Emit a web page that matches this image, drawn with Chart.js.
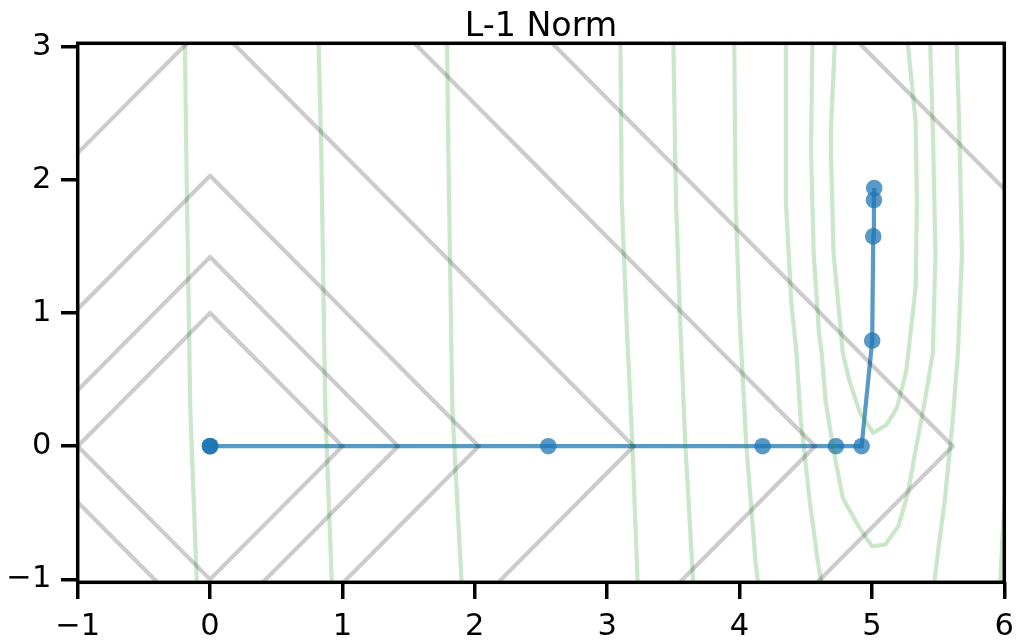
<!DOCTYPE html>
<html>
<head>
<meta charset="utf-8">
<script src="https://cdn.jsdelivr.net/npm/chart.js@4/dist/chart.umd.min.js"></script>
<style>
html, body { margin: 0; padding: 0; background: #ffffff; }
canvas { display: block; }
</style>
</head>
<body>
<canvas id="c" width="1026" height="643"></canvas>
<script>
// ---------- data ----------
const titleText = 'L-1 Norm';
const xTickValues = [-1, 0, 1, 2, 3, 4, 5, 6];
const yTickValues = [-1, 0, 1, 2, 3];

// optimisation path (blue)
const pathX = [0, 0, 0, 2.555, 4.174, 4.728, 4.922, 5.002, 5.010, 5.015, 5.017];
const pathY = [0, 0, 0, 0, 0, 0, 0, 0.793, 1.575, 1.848, 1.938];

// L-1 norm contours (gray diamonds)
const l1Level1 = [[1.0, 0], [0, 1.0], [-1.0, 0], [0, -1.0], [1.0, 0]];
const l1Level2 = [[1.42, 0], [0, 1.42], [-1.42, 0], [0, -1.42], [1.42, 0]];
const l1Level3 = [[2.03, 0], [0, 2.03], [-2.03, 0], [0, -2.03], [2.03, 0]];
const l1Level4 = [[3.2, 0], [0, 3.2], [-3.2, 0], [0, -3.2], [3.2, 0]];
const l1Level5 = [[4.57, 0], [0, 4.57], [-4.57, 0], [0, -4.57], [4.57, 0]];
const l1Level6 = [[5.61, 0], [0, 5.61], [-5.61, 0], [0, -5.61], [5.61, 0]];
const l1Level7 = [[7.93, 0], [0, 7.93], [-7.93, 0], [0, -7.93], [7.93, 0]];

// objective contours (green)
const objLine1 = [[-0.19, 3.03], [-0.18, 2.22], [-0.15, 0.29], [-0.10, -1.03]];
const objLine2 = [[0.82, 3.03], [0.84, 2.22], [0.87, 0.29], [0.92, -1.03]];
const objLine3 = [[1.79, 3.03], [1.80, 2.22], [1.83, 0.29], [1.90, -1.03]];
const objLine4 = [[3.10, 3.03], [3.11, 1.84], [3.15, 0.85], [3.19, 0.02], [3.23, -1.03]];
const objLine5 = [[3.50, 3.03], [3.52, 1.84], [3.55, 0.97], [3.59, 0.02], [3.65, -1.03]];
const objLine6 = [[3.96, 3.03], [3.97, 1.84], [4.00, 0.97], [4.05, 0.02], [4.12, -0.86], [4.14, -1.03]];
const objLine7Left = [[4.35, 3.03], [4.35, 1.84], [4.39, 1.09], [4.43, 0.70], [4.46, 0.22], [4.53, -0.41], [4.59, -0.86], [4.62, -1.03]];
const objLine7Right = [[5.64, 3.03], [5.66, 2.38], [5.68, 1.45], [5.65, 0.70], [5.61, 0.19], [5.55, -0.41], [5.51, -0.71], [5.47, -1.03]];
const objLine8 = [[4.55, 3.03], [4.54, 2.22], [4.56, 1.45], [4.60, 0.85], [4.62, 0.70], [4.65, 0.34], [4.71, -0.03], [4.78, -0.39], [4.91, -0.62], [5.00, -0.75], [5.10, -0.74], [5.20, -0.60], [5.27, -0.36], [5.33, -0.03], [5.40, 0.34], [5.46, 0.70], [5.48, 1.45], [5.46, 2.38], [5.44, 3.03]];
const objLine9 = [[4.72, 3.03], [4.69, 2.38], [4.69, 2.22], [4.71, 1.45], [4.78, 0.70], [4.83, 0.49], [4.91, 0.25], [5.01, 0.10], [5.11, 0.16], [5.19, 0.29], [5.26, 0.57], [5.33, 1.19], [5.34, 1.82], [5.33, 2.44], [5.27, 3.03]];
const objLine6Right = [[6.02, -0.30], [6.00, -0.45], [5.985, -0.70], [5.97, -1.03]];

// ---------- chart construction ----------
const grayContours = [l1Level1, l1Level2, l1Level3, l1Level4, l1Level5, l1Level6, l1Level7];
const greenContours = [objLine1, objLine2, objLine3, objLine4, objLine5, objLine6, objLine7Left, objLine7Right, objLine8, objLine9, objLine6Right];

const toPts = arr => arr.map(p => ({ x: p[0], y: p[1] }));
const contourDs = (arr, color) => ({
  data: toPts(arr),
  showLine: true,
  borderColor: color,
  borderWidth: 4.2,
  pointRadius: 0,
  tension: 0,
  clip: 0,
  borderJoinStyle: 'round',
  borderCapStyle: 'round'
});

const datasets = [];
grayContours.forEach(c => datasets.push(contourDs(c, 'rgba(0,0,0,0.2)')));
greenContours.forEach(c => datasets.push(contourDs(c, 'rgba(44,160,44,0.25)')));
datasets.push({
  data: pathX.map((x, i) => ({ x: x, y: pathY[i] })),
  showLine: true,
  borderColor: 'rgba(31,119,180,0.75)',
  borderWidth: 4.2,
  pointRadius: 8.3,
  pointBorderWidth: 0,
  pointBackgroundColor: 'rgba(31,119,180,0.75)',
  pointBorderColor: 'rgba(31,119,180,0.75)',
  tension: 0,
  clip: false
});

const fmt = v => (v < 0 ? '\u2212' + Math.abs(v) : String(v));
const FONT = '"DejaVu Sans", sans-serif';

const framePlugin = {
  id: 'frame',
  afterDatasetsDraw(chart) {
    const { ctx, chartArea: a } = chart;
    ctx.save();
    ctx.strokeStyle = '#000';
    ctx.lineWidth = 3.5;
    ctx.lineJoin = 'miter';
    ctx.strokeRect(a.left, a.top, a.right - a.left, a.bottom - a.top);
    ctx.restore();
  },
  afterDraw(chart) {
    const { ctx, chartArea: a } = chart;
    ctx.save();
    ctx.fillStyle = '#000';
    ctx.font = '33.3px ' + FONT;
    ctx.textAlign = 'center';
    ctx.textBaseline = 'alphabetic';
    ctx.fillText(titleText, (a.left + a.right) / 2, 35.5);
    ctx.restore();
  }
};

const axisCommon = {
  type: 'linear',
  grid: { display: true, drawOnChartArea: false, drawTicks: true, tickLength: 16.7, color: '#000', lineWidth: 3.5 },
  border: { display: false },
  ticks: { autoSkip: false, maxRotation: 0, color: '#000', padding: 9.7, font: { family: FONT, size: 30.5 }, callback: fmt }
};

new Chart(document.getElementById('c'), {
  type: 'scatter',
  data: { datasets: datasets },
  plugins: [framePlugin],
  options: {
    responsive: false,
    devicePixelRatio: 1,
    animation: false,
    events: [],
    layout: { padding: { top: 43.3, right: 21.7, left: 0, bottom: 0 } },
    plugins: { legend: { display: false }, tooltip: { enabled: false }, title: { display: false } },
    scales: {
      x: Object.assign({}, axisCommon, {
        position: 'bottom', min: -1, max: 6,
        afterBuildTicks: ax => { ax.ticks = xTickValues.map(v => ({ value: v })); },
        afterFit: ax => { ax.height = 60.7; }
      }),
      y: Object.assign({}, axisCommon, {
        position: 'left', min: -1.022, max: 3.025,
        afterBuildTicks: ax => { ax.ticks = yTickValues.map(v => ({ value: v })); },
        afterFit: ax => { ax.width = 77.7; }
      })
    }
  }
});
</script>
</body>
</html>
